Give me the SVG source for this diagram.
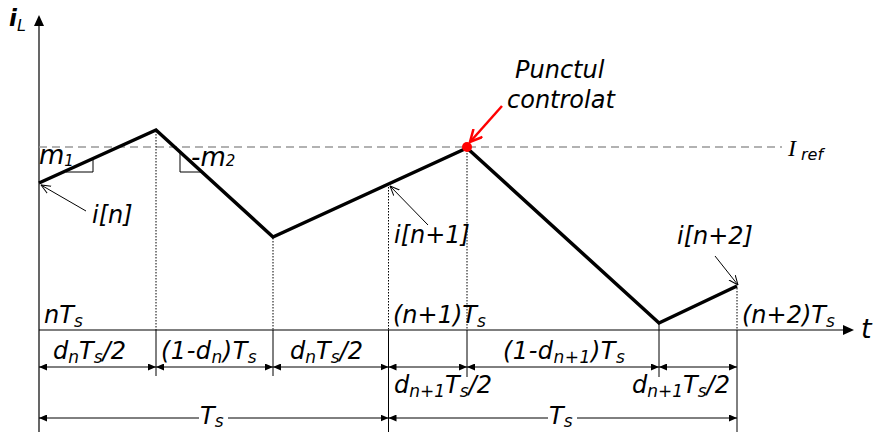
<svg xmlns="http://www.w3.org/2000/svg" width="877" height="432" viewBox="0 0 877 432">
<defs>
<style>
text{font-family:"DejaVu Sans","Verdana",sans-serif;font-style:italic;fill:#000}
.lbl{font-size:24px}
.big{font-size:24px}
.sub{font-size:17px}
.ax{stroke:#000;stroke-width:1.2;fill:none}
.dot{stroke:#000;stroke-width:1;stroke-dasharray:1.5 1.5;fill:none}
.tick{stroke:#000;stroke-width:1;fill:none}
.dim{stroke:#000;stroke-width:1;fill:none;marker-start:url(#dh);marker-end:url(#dh)}
.dimL{stroke:#000;stroke-width:1;fill:none;marker-start:url(#dh)}
.dimR{stroke:#000;stroke-width:1;fill:none;marker-end:url(#dh)}
.thin{stroke:#000;stroke-width:1;fill:none;marker-end:url(#oa)}
</style>
<marker id="dh" viewBox="0 0 8 7" refX="8" refY="3.5" markerWidth="8" markerHeight="7" markerUnits="userSpaceOnUse" orient="auto-start-reverse">
<path d="M0,0 L8,3.5 L0,7 z" fill="#000"/>
</marker>
<marker id="oa" viewBox="0 0 10 10" refX="9.5" refY="5" markerWidth="10" markerHeight="10" markerUnits="userSpaceOnUse" orient="auto">
<path d="M0,1 L9.5,5 L0,9" fill="none" stroke="#000" stroke-width="1"/>
</marker>
<marker id="ra" viewBox="0 0 14 14" refX="13" refY="7" markerWidth="14" markerHeight="14" markerUnits="userSpaceOnUse" orient="auto">
<path d="M1,1 L13,7 L1,13" fill="none" stroke="#f00" stroke-width="2.5"/>
</marker>
</defs>
<rect width="877" height="432" fill="#fff"/>

<g id="axes">
<line class="ax" x1="39" y1="432" x2="39" y2="24"/>
<path d="M39,15 L34,26 L44,26 z" fill="#000"/>
<line class="ax" x1="39" y1="330" x2="845" y2="330"/>
<path d="M854,330 L843,325 L843,335 z" fill="#000"/>
<text x="9" y="26" style="font-size:23px;font-weight:bold">i<tspan dy="5" style="font-size:16px;font-weight:normal">L</tspan></text>
<text x="861" y="338" style="font-size:27px">t</text>
</g>

<g id="iref">
<line x1="39" y1="147" x2="782" y2="147" stroke="#999" stroke-width="1.5" stroke-dasharray="8 5"/>
<text x="788" y="156" style="font-family:'Liberation Serif',serif;font-size:24px">I<tspan dx="5" dy="4" style="font-family:'DejaVu Sans',sans-serif;font-size:16px">ref</tspan></text>
</g>

<g id="guides">
<line class="dot" x1="156" y1="131" x2="156" y2="330"/>
<line class="dot" x1="273" y1="238" x2="273" y2="330"/>
<line class="dot" x1="388.5" y1="187" x2="388.5" y2="330"/>
<line class="dot" x1="467" y1="150" x2="467" y2="330"/>
<line class="dot" x1="737" y1="288" x2="737" y2="330"/>
<line class="tick" x1="156" y1="330" x2="156" y2="376"/>
<line class="tick" x1="273" y1="330" x2="273" y2="376"/>
<line class="tick" x1="388.5" y1="330" x2="388.5" y2="432"/>
<line class="tick" x1="467" y1="330" x2="467" y2="377"/>
<line class="tick" x1="659" y1="323" x2="659" y2="377"/>
<line class="tick" x1="737" y1="330" x2="737" y2="432"/>
</g>

<g id="waveform">
<polyline points="39,183 156,130 273,237 467,148 659,323 737,286" fill="none" stroke="#000" stroke-width="3.5" stroke-linejoin="miter"/>
<path d="M66,172 H93 V159" fill="none" stroke="#000" stroke-width="1"/>
<path d="M180,153 V172 H202" fill="none" stroke="#000" stroke-width="1"/>
<text x="39" y="164" style="font-size:26px">m<tspan dy="2" style="font-size:15px">1</tspan></text>
<text x="191" y="166" style="font-size:26px">-m<tspan dy="0" style="font-size:15px">2</tspan></text>
</g>

<g id="control-point">
<circle cx="467" cy="147" r="5" fill="#f00"/>
<line x1="502" y1="106" x2="470" y2="142" stroke="#f00" stroke-width="2.5" marker-end="url(#ra)"/>
<text x="515" y="78" class="big">Punctul</text>
<text x="507" y="108" class="big">controlat</text>
</g>

<g id="samples">
<line class="thin" x1="86" y1="211" x2="41" y2="185"/>
<text x="92" y="223" class="big">i[n]</text>
<line class="thin" x1="428" y1="225" x2="390" y2="186"/>
<text x="394" y="243" class="big">i[n+1]</text>
<line class="thin" x1="715" y1="256" x2="738" y2="285"/>
<text x="677" y="244" class="big">i[n+2]</text>
</g>

<g id="time-labels">
<text x="44" y="323" class="lbl">nT<tspan class="sub" dy="4">s</tspan></text>
<text x="393" y="323" class="lbl">(n+1)T<tspan class="sub" dy="4">s</tspan></text>
<text x="742" y="323" class="lbl">(n+2)T<tspan class="sub" dy="4">s</tspan></text>
</g>

<g id="connectors">
<line class="dim" x1="39" y1="367" x2="156" y2="367"/>
<line class="dim" x1="156" y1="367" x2="273" y2="367"/>
<line class="dim" x1="273" y1="367" x2="388.5" y2="367"/>
<line class="dim" x1="388.5" y1="367" x2="467" y2="367"/>
<line class="dim" x1="467" y1="367" x2="659" y2="367"/>
<line class="dim" x1="659" y1="367" x2="737" y2="367"/>
<line class="dimL" x1="39" y1="418" x2="199" y2="418"/>
<line class="dimR" x1="228" y1="418" x2="388.5" y2="418"/>
<line class="dimL" x1="388.5" y1="418" x2="548" y2="418"/>
<line class="dimR" x1="577" y1="418" x2="737" y2="418"/>
</g>

<g id="dim-labels">
<text x="53" y="359" class="lbl">d<tspan class="sub" dy="4">n</tspan><tspan dy="-4">T</tspan><tspan class="sub" dy="4">s</tspan><tspan dy="-4">/2</tspan></text>
<text x="161" y="359" class="lbl" letter-spacing="0.5">(1-d<tspan class="sub" dy="4">n</tspan><tspan dy="-4">)T</tspan><tspan class="sub" dy="4">s</tspan></text>
<text x="290" y="359" class="lbl">d<tspan class="sub" dy="4">n</tspan><tspan dy="-4">T</tspan><tspan class="sub" dy="4">s</tspan><tspan dy="-4">/2</tspan></text>
<text x="394" y="393" class="lbl">d<tspan class="sub" dy="4">n+1</tspan><tspan dy="-4">T</tspan><tspan class="sub" dy="4">s</tspan><tspan dy="-4">/2</tspan></text>
<text x="503" y="359" class="lbl" letter-spacing="0.5">(1-d<tspan class="sub" dy="4">n+1</tspan><tspan dy="-4">)T</tspan><tspan class="sub" dy="4">s</tspan></text>
<text x="632" y="393" class="lbl">d<tspan class="sub" dy="4">n+1</tspan><tspan dy="-4">T</tspan><tspan class="sub" dy="4">s</tspan><tspan dy="-4">/2</tspan></text>
<text x="200" y="424" class="lbl">T<tspan class="sub" dy="3">s</tspan></text>
<text x="549" y="424" class="lbl">T<tspan class="sub" dy="3">s</tspan></text>
</g>
</svg>
